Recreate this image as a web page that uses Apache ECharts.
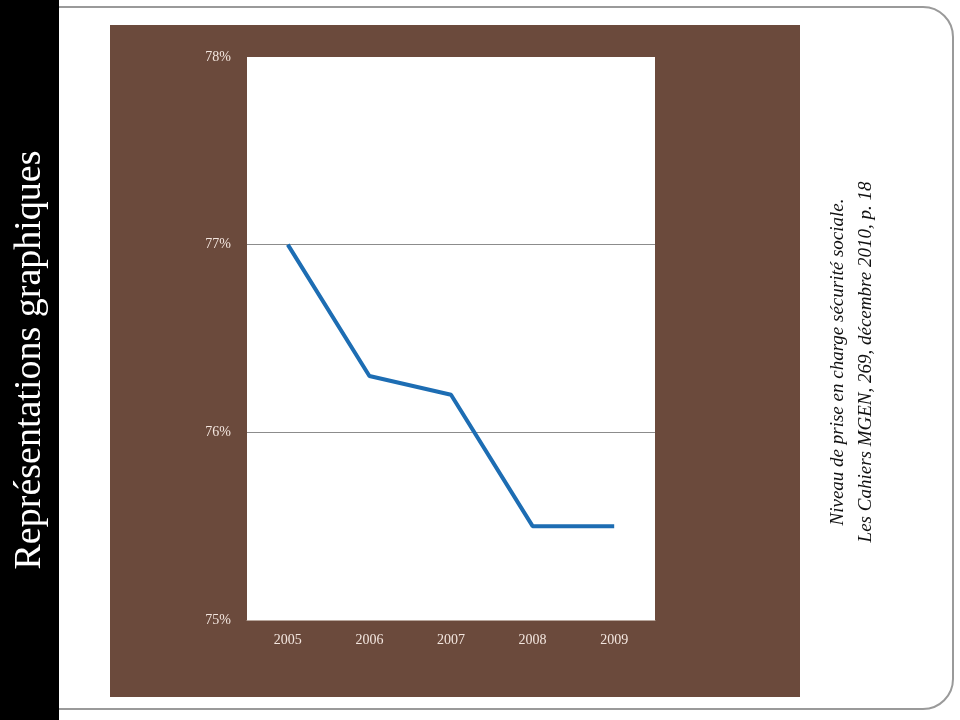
<!DOCTYPE html>
<html>
<head>
<meta charset="utf-8">
<script src="https://cdn.jsdelivr.net/npm/echarts@6/dist/echarts.min.js"></script>
<style>
  html, body { margin: 0; padding: 0; background: #fff; }
  #chart { width: 960px; height: 720px; }
</style>
</head>
<body>
<div id="chart"></div>
<script>
const years = ['2005', '2006', '2007', '2008', '2009'];
const coverage = [77.0, 76.3, 76.2, 75.5, 75.5];
const yTicks = [75, 76, 77, 78];

const sideTitle = 'Représentations graphiques';
const sourceLines = [
    'Niveau de prise en charge sécurité sociale.',
    'Les Cahiers MGEN, 269, décembre 2010, p. 18'
];

const chart = echarts.init(document.getElementById('chart'));
const labelColor = '#f3e6df';
const serif = '"Liberation Serif", "DejaVu Serif", serif';

chart.setOption({
    backgroundColor: '#fff',
    animation: false,
    grid: {
        left: 247, top: 57, width: 408, height: 563,
        show: true, backgroundColor: '#fff', borderWidth: 0
    },
    xAxis: {
        type: 'category',
        data: years,
        boundaryGap: true,
        z: 3,
        axisLine: { lineStyle: { color: '#b8a69c', width: 1 } },
        axisTick: { show: false },
        axisLabel: { color: labelColor, fontFamily: serif, fontSize: 14, margin: 13 }
    },
    yAxis: {
        type: 'value',
        min: yTicks[0],
        max: yTicks[yTicks.length - 1],
        interval: 1,
        z: 3,
        axisLine: { show: false },
        axisTick: { show: false },
        splitLine: {
            showMaxLine: false,
            lineStyle: { color: '#8c8c8c', width: 1 }
        },
        axisLabel: {
            color: labelColor, fontFamily: serif, fontSize: 14, margin: 16,
            formatter: v => v + '%'
        }
    },
    series: [{
        type: 'line',
        data: coverage,
        symbol: 'none',
        lineStyle: { color: '#1d6db3', width: 4 },
        z: 5
    }],
    graphic: [
        {
            type: 'rect', z: -10,
            shape: { x: 30, y: 7, width: 923, height: 702, r: 30 },
            style: { fill: 'none', stroke: '#9a9a9a', lineWidth: 2 }
        },
        {
            type: 'rect', z: -5,
            shape: { x: 0, y: 0, width: 59, height: 720 },
            style: { fill: '#000' }
        },
        {
            type: 'rect', z: -1,
            shape: { x: 110, y: 25, width: 690, height: 672 },
            style: { fill: '#6b4a3c' }
        },
        {
            type: 'text', z: 10,
            x: 30, y: 360, rotation: Math.PI / 2,
            style: {
                text: sideTitle, fill: '#fff', font: '38px ' + serif,
                align: 'center', verticalAlign: 'middle'
            }
        },
        {
            type: 'text', z: 10,
            x: 852, y: 362, rotation: Math.PI / 2,
            style: {
                text: sourceLines.join('\n'), fill: '#111',
                font: 'italic 19px ' + serif, lineHeight: 28,
                align: 'center', verticalAlign: 'middle'
            }
        }
    ]
});
</script>
</body>
</html>
